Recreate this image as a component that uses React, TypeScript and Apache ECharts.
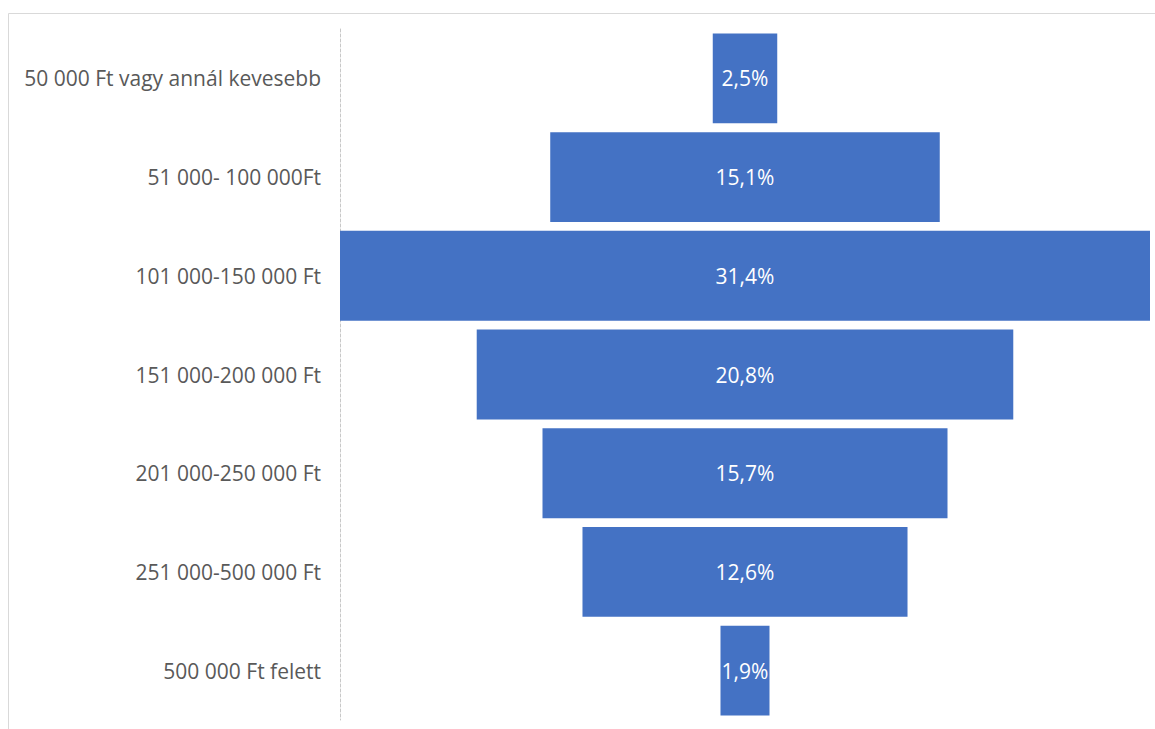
import React, { useEffect, useRef } from "react";
import * as echarts from "echarts";

const categories = [
  "50 000 Ft vagy annál kevesebb",
  "51 000- 100 000Ft",
  "101 000-150 000 Ft",
  "151 000-200 000 Ft",
  "201 000-250 000 Ft",
  "251 000-500 000 Ft",
  "500 000 Ft felett",
];
const values = [2.5, 15.1, 31.4, 20.8, 15.7, 12.6, 1.9];

export default function App() {
  const ref = useRef<HTMLDivElement>(null);
  useEffect(() => {
    if (!ref.current) return;
    const chart = echarts.init(ref.current, null, { renderer: "svg" });
    const maxV = Math.max(...values);
    const offsets = values.map((v) => (maxV - v) / 2);
    const font = "'Open Sans', 'Noto Sans', sans-serif";
    chart.setOption({
      animation: false,
      backgroundColor: "#ffffff",
      graphic: [
        {
          type: "rect",
          shape: { x: 8.5, y: 13.5, width: 1160, height: 730 },
          style: { fill: "none", stroke: "#d9d9d9", lineWidth: 1 },
          silent: true,
        },
      ],
      grid: { left: 340, right: 5, top: 29, bottom: 9, containLabel: false },
      xAxis: {
        type: "value",
        min: 0,
        max: maxV,
        show: false,
      },
      yAxis: {
        type: "category",
        data: categories,
        inverse: true,
        axisLine: {
          show: true,
          lineStyle: { color: "#c8c8c8", type: [3, 2], width: 1 },
        },
        axisTick: { show: false },
        axisLabel: {
          color: "#595959",
          fontSize: 21,
          fontFamily: font,
          margin: 19,
        },
        splitLine: { show: false },
      },
      series: [
        {
          type: "bar",
          stack: "f",
          data: offsets,
          itemStyle: { color: "transparent" },
          silent: true,
          barCategoryGap: "9%",
        },
        {
          type: "bar",
          stack: "f",
          data: values,
          barCategoryGap: "9%",
          itemStyle: { color: "#4472C4" },
          label: {
            show: true,
            position: "inside",
            color: "#ffffff",
            fontSize: 21,
            fontFamily: font,
            formatter: (p: any) => String(p.value.toFixed(1)).replace(".", ",") + "%",
          },
        },
      ],
    });
    return () => chart.dispose();
  }, []);
  return (
    <div
      ref={ref}
      style={{ position: "fixed", left: 0, top: 0, width: 1155, height: 729 }}
    />
  );
}
